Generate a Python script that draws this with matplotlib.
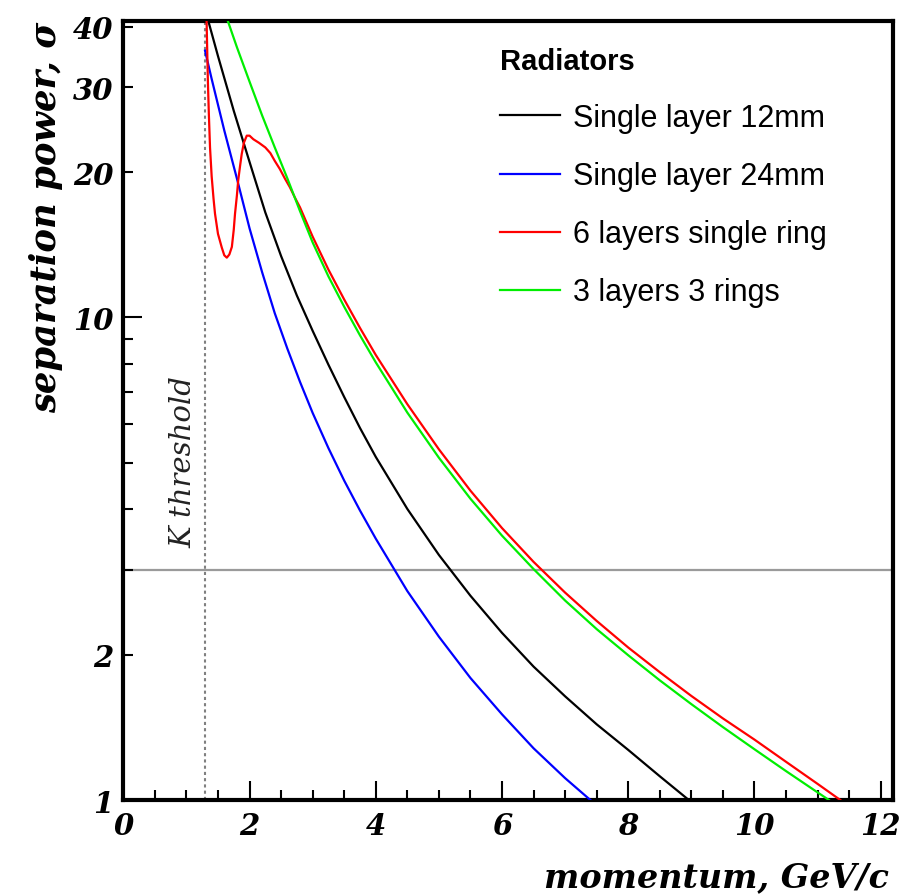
import matplotlib.pyplot as plt
import numpy as np
from matplotlib.ticker import FixedLocator, FuncFormatter

# curves: momentum (GeV/c) vs separation power (sigma)
p_12mm = np.array([1.35, 1.5, 1.75, 2.0, 2.25, 2.5, 2.75, 3.0, 3.25, 3.5, 3.75, 4.0,
                   4.5, 5.0, 5.5, 6.0, 6.5, 7.0, 7.5, 8.0, 8.5, 8.96])
s_12mm = np.array([41.0, 34.8, 26.8, 21.0, 16.5, 13.4, 11.1, 9.38, 7.98, 6.84, 5.90, 5.14,
                   4.01, 3.22, 2.65, 2.22, 1.89, 1.64, 1.435, 1.27, 1.12, 1.0])

p_24mm = np.array([1.295, 1.4, 1.6, 1.8, 2.0, 2.2, 2.4, 2.6, 2.8, 3.0, 3.25, 3.5, 3.75,
                   4.0, 4.5, 5.0, 5.5, 6.0, 6.5, 7.0, 7.4])
s_24mm = np.array([35.7, 31.2, 24.4, 19.4, 15.3, 12.4, 10.2, 8.61, 7.35, 6.34, 5.36, 4.59,
                   3.98, 3.48, 2.71, 2.18, 1.79, 1.505, 1.28, 1.11, 1.0])

p_6lay = np.array([1.32, 1.33, 1.34, 1.355, 1.374, 1.40, 1.43, 1.453, 1.50, 1.56, 1.60,
                   1.64, 1.68, 1.72, 1.75, 1.77, 1.80, 1.82, 1.85, 1.876, 1.91, 1.956,
                   2.0, 2.06, 2.15, 2.25, 2.33, 2.40, 2.48, 2.56, 2.64, 2.72, 2.8, 3.0,
                   3.25, 3.5, 3.75, 4.0, 4.5, 5.0, 5.5, 6.0, 6.5, 7.0, 7.5, 8.0, 8.5,
                   9.0, 9.5, 10.0, 10.5, 11.0, 11.36])
s_6lay = np.array([41.0, 35.5, 30.9, 26.5, 22.5, 19.6, 17.6, 16.4, 14.9, 13.96, 13.45,
                   13.3, 13.5, 14.0, 15.2, 16.4, 17.9, 19.2, 20.6, 21.8, 23.0, 23.8,
                   23.8, 23.4, 23.0, 22.5, 21.9, 21.1, 20.3, 19.4, 18.6, 17.7, 16.9, 14.7,
                   12.56, 10.89, 9.51, 8.36, 6.61, 5.33, 4.375, 3.66, 3.115, 2.69, 2.35,
                   2.07, 1.84, 1.643, 1.476, 1.334, 1.20, 1.08, 1.0])

p_3lay = np.array([1.66, 1.8, 2.0, 2.2, 2.4, 2.6, 2.8, 3.0, 3.25, 3.5, 3.75, 4.0, 4.5,
                   5.0, 5.5, 6.0, 6.5, 7.0, 7.5, 8.0, 8.5, 9.0, 9.5, 10.0, 10.5, 11.0,
                   11.18])
s_3lay = np.array([41.0, 36.3, 30.8, 26.2, 22.5, 19.4, 16.6, 14.3, 12.16, 10.52, 9.18,
                   8.07, 6.35, 5.12, 4.21, 3.53, 3.01, 2.59, 2.26, 1.995, 1.77, 1.58,
                   1.416, 1.274, 1.148, 1.037, 1.0])

labels = ["Single layer 12mm", "Single layer 24mm", "6 layers single ring", "3 layers 3 rings"]
colors = ["black", "#0000ff", "#ff0000", "#00ee00"]

K_THRESHOLD = 1.295
SIGMA_LINE = 3.0

serif = dict(family="DejaVu Serif", style="italic", weight="bold")

fig = plt.figure(figsize=(9.14, 8.95), dpi=100)
ax = fig.add_axes([0.1349, 0.105, 0.8425, 0.8708])

ax.axhline(SIGMA_LINE, color="#9a9a9a", lw=1.6, zorder=1)
ax.axvline(K_THRESHOLD, color="#808080", lw=1.5, ls=(0, (1.5, 1.5)), zorder=1)

curves = [(p_12mm, s_12mm), (p_24mm, s_24mm), (p_6lay, s_6lay), (p_3lay, s_3lay)]
for (p, s), c, lab in zip(curves, colors, labels):
    ax.plot(p, s, color=c, lw=1.6, label=lab, zorder=3)

ax.set_yscale("log")
ax.set_xlim(0, 12.2)
ax.set_ylim(1, 41.2)

# x ticks
ax.xaxis.set_major_locator(FixedLocator([0, 2, 4, 6, 8, 10, 12]))
ax.xaxis.set_minor_locator(FixedLocator(np.arange(0, 12.01, 0.5)))
ax.tick_params(axis="x", which="major", direction="in", length=14, width=1.5,
               top=False, pad=8)
ax.tick_params(axis="x", which="minor", direction="in", length=7, width=1.5, top=False)

# y ticks
ax.yaxis.set_major_locator(FixedLocator([1, 10]))
ax.yaxis.set_minor_locator(FixedLocator([2, 3, 4, 5, 6, 7, 8, 9, 20, 30, 40]))
ax.yaxis.set_major_formatter(FuncFormatter(lambda v, pos: "%d" % round(v)))
ax.yaxis.set_minor_formatter(FuncFormatter(
    lambda v, pos: "%d" % round(v) if round(v) in (2, 20, 30, 40) else ""))
ax.tick_params(axis="y", which="major", direction="in", length=14, width=1.5,
               right=False, pad=7)
ax.tick_params(axis="y", which="minor", direction="in", length=7, width=1.5,
               right=False, pad=7)

for lab in ax.get_xticklabels() + ax.get_yticklabels(which="both"):
    lab.set_fontfamily("DejaVu Serif")
    lab.set_fontstyle("italic")
    lab.set_fontweight("bold")
    lab.set_fontsize(21)

for sp in ax.spines.values():
    sp.set_linewidth(3)

ax.text(0.994, -0.098, "momentum, GeV/c", transform=ax.transAxes, ha="right",
        va="center", fontsize=24, **serif)
ax.text(-0.10, 1.0, "separation power, σ", transform=ax.transAxes, rotation=90,
        ha="center", va="top", fontsize=25.5, **serif)
ax.text(0.95, 3.35, "K threshold", rotation=90, ha="center", va="bottom",
        fontsize=21, family="DejaVu Serif", style="italic", color="#222222")

leg = ax.legend(loc="upper left", bbox_to_anchor=(0.4314, 1.023), frameon=False,
                title="Radiators", alignment="left",
                prop=dict(family="Liberation Sans", size=22),
                title_fontproperties=dict(family="Liberation Sans", size=21, weight="bold"),
                handlelength=1.96, handletextpad=0.43, labelspacing=0.92,
                borderpad=0.95)

fig.savefig("out.png", dpi=100)
